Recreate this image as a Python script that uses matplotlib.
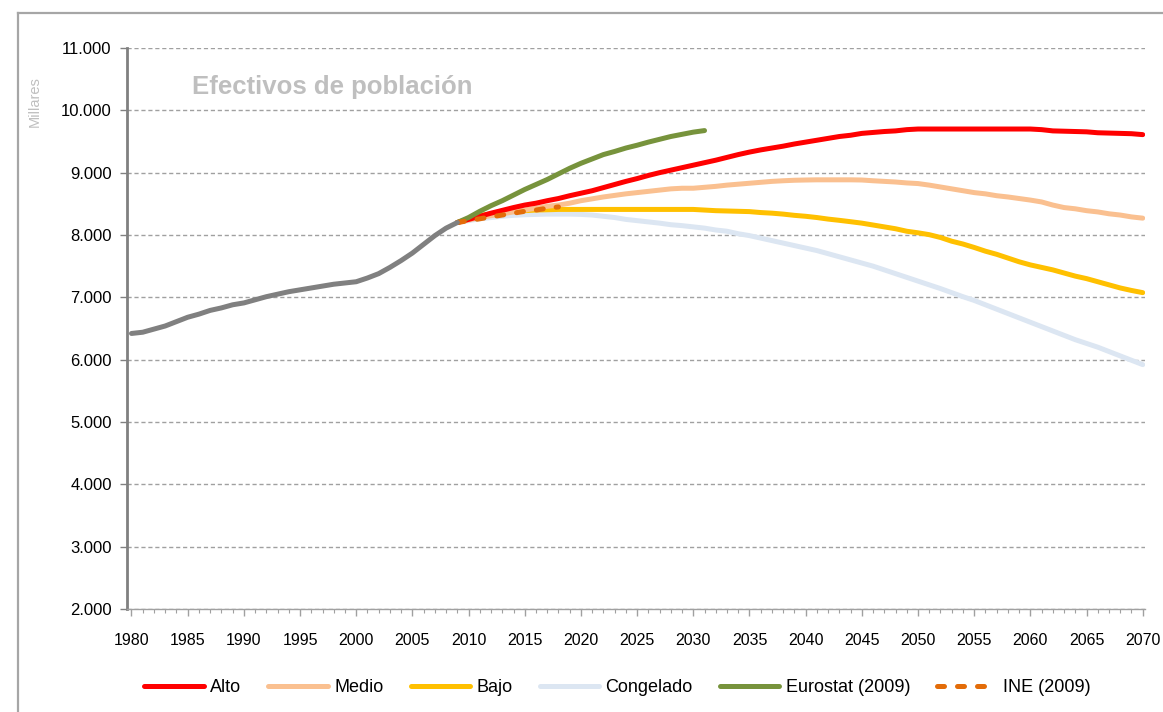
import matplotlib
matplotlib.use("Agg")
import matplotlib.pyplot as plt
from matplotlib.lines import Line2D
from matplotlib.ticker import FuncFormatter, MultipleLocator

plt.rcParams['font.family'] = ['Liberation Sans', 'DejaVu Sans']

# ---------------- data (thousands of people) ----------------
hist_years = list(range(1980, 2010))
hist_vals = [6420, 6440, 6490, 6540, 6610, 6680, 6730, 6790, 6830, 6880,
             6910, 6960, 7010, 7050, 7090, 7120, 7150, 7180, 7210, 7230,
             7250, 7310, 7380, 7480, 7590, 7710, 7850, 7990, 8110, 8200]

proj_years = list(range(2009, 2071))
alto = [8200, 8250, 8300, 8350, 8395, 8440, 8480, 8510, 8550, 8585,
        8630, 8670, 8710, 8760, 8810, 8860, 8905, 8955, 9000, 9040,
        9080, 9120, 9160, 9200, 9245, 9290, 9330, 9365, 9395, 9425,
        9460, 9490, 9520, 9550, 9580, 9600, 9630, 9645, 9660, 9670,
        9690, 9700, 9700, 9700, 9700, 9700, 9700, 9700, 9700, 9700,
        9700, 9700, 9690, 9670, 9665, 9660, 9655, 9640, 9635, 9630,
        9625, 9610]
medio = [8200, 8240, 8280, 8310, 8340, 8370, 8400, 8430, 8460, 8480,
         8510, 8550, 8580, 8610, 8635, 8660, 8680, 8700, 8720, 8740,
         8750, 8750, 8765, 8780, 8800, 8815, 8830, 8845, 8860, 8870,
         8878, 8882, 8885, 8885, 8885, 8885, 8882, 8870, 8860, 8850,
         8835, 8825, 8800, 8770, 8740, 8710, 8680, 8660, 8630, 8610,
         8585, 8560, 8530, 8480, 8440, 8420, 8390, 8370, 8340, 8320,
         8290, 8270]
bajo = [8200, 8260, 8310, 8340, 8360, 8380, 8390, 8400, 8405, 8410,
        8410, 8410, 8410, 8410, 8410, 8410, 8410, 8410, 8410, 8410,
        8410, 8410, 8400, 8390, 8385, 8380, 8375, 8360, 8350, 8335,
        8315, 8300, 8280, 8255, 8235, 8213, 8190, 8160, 8130, 8100,
        8060, 8035, 8005, 7960, 7900, 7855, 7800, 7740, 7690, 7630,
        7570, 7520, 7480, 7440, 7390, 7340, 7300, 7250, 7200, 7150,
        7110, 7075]
congelado = [8200, 8230, 8260, 8280, 8300, 8315, 8325, 8330, 8335, 8335,
             8335, 8330, 8320, 8300, 8280, 8250, 8230, 8210, 8190, 8165,
             8150, 8130, 8110, 8080, 8060, 8020, 7990, 7950, 7910, 7870,
             7830, 7790, 7750, 7700, 7650, 7600, 7550, 7500, 7440, 7380,
             7320, 7260, 7200, 7140, 7075, 7010, 6950, 6880, 6810, 6740,
             6670, 6600, 6530, 6460, 6390, 6320, 6260, 6200, 6130, 6060,
             5990, 5920]

euro_years = list(range(2009, 2032))
eurostat = [8200, 8280, 8380, 8470, 8550, 8640, 8730, 8810, 8890, 8980,
            9070, 9150, 9220, 9290, 9340, 9395, 9440, 9490, 9535, 9580,
            9615, 9650, 9675]

ine_years = list(range(2009, 2019))
ine = [8200, 8230, 8260, 8290, 8320, 8350, 8380, 8400, 8430, 8450]

y_ticks = [2000, 3000, 4000, 5000, 6000, 7000, 8000, 9000, 10000, 11000]
x_ticks = list(range(1980, 2071, 5))

title_text = "Efectivos de población"
ylabel_text = "Millares"

# ---------------- figure ----------------
fig = plt.figure(figsize=(11.63, 7.12), dpi=100)
ax = fig.add_axes([0.1092, 0.1447, 0.8753, 0.7879])

lw = 3.6
ax.plot(proj_years, congelado, color='#DCE6F2', lw=lw, label='Congelado', zorder=3,
        solid_capstyle='round')
ax.plot(proj_years, bajo, color='#FFC000', lw=lw, label='Bajo', zorder=4,
        solid_capstyle='round')
ax.plot(proj_years, medio, color='#FAC090', lw=lw, label='Medio', zorder=5,
        solid_capstyle='round')
ax.plot(proj_years, alto, color='#FF0000', lw=lw, label='Alto', zorder=6,
        solid_capstyle='round')
ax.plot(euro_years, eurostat, color='#77933C', lw=lw, label='Eurostat (2009)', zorder=7,
        solid_capstyle='round')
ax.plot(ine_years, ine, color='#E36C09', lw=lw, ls=(0, (1.4, 2.6)), label='INE (2009)',
        zorder=8, dash_capstyle='round')
ax.plot(hist_years, hist_vals, color='#808080', lw=lw, zorder=9,
        solid_capstyle='round')

ax.set_xlim(1979.6, 2070.2)
ax.set_ylim(2000, 11000)
ax.set_yticks(y_ticks)
ax.set_xticks(x_ticks)
ax.xaxis.set_minor_locator(MultipleLocator(1))
ax.yaxis.set_major_formatter(FuncFormatter(lambda v, p: f"{int(v):,}".replace(",", ".")))

ax.grid(axis='y', color='#A0A0A0', ls=(0, (3, 2)), lw=1.0, zorder=1)
ax.set_axisbelow(True)

for s in ['top', 'right']:
    ax.spines[s].set_visible(False)
ax.spines['left'].set_color('#808080')
ax.spines['left'].set_linewidth(2.0)
ax.spines['bottom'].set_color('#A0A0A0')
ax.spines['bottom'].set_linewidth(1.0)

ax.tick_params(axis='y', length=5, width=1, color='#808080', labelsize=12, pad=6)
ax.tick_params(axis='x', which='major', length=5, width=1, color='#A0A0A0',
               labelsize=11.5, pad=12)
ax.tick_params(axis='x', which='minor', length=3, width=0.8, color='#A0A0A0')

ax.text(0.064, 0.930, title_text, transform=ax.transAxes, fontsize=18.5,
        fontweight='bold', color='#BFBFBF', va='center', ha='left')
fig.text(0.030, 0.857, ylabel_text, rotation=90, fontsize=10.5, color='#BFBFBF',
         va='center', ha='center')

# figure frame (grey border starting top-left)
fx0 = 18 / 1163
fy0 = 1 - 13 / 712
fig.add_artist(Line2D([fx0, 1.0], [fy0, fy0], transform=fig.transFigure,
                      color='#A6A6A6', lw=1.6))
fig.add_artist(Line2D([fx0, fx0], [0.0, fy0], transform=fig.transFigure,
                      color='#A6A6A6', lw=1.6))

handles, labels = ax.get_legend_handles_labels()
order = ['Alto', 'Medio', 'Bajo', 'Congelado', 'Eurostat (2009)', 'INE (2009)']
hmap = dict(zip(labels, handles))
fig.legend([hmap[k] for k in order], order, loc='center', ncol=6,
           bbox_to_anchor=(0.531, 0.034), frameon=False, fontsize=13,
           handlelength=3.3, columnspacing=1.5, handletextpad=0.35)

fig.savefig('out.png', dpi=100)
